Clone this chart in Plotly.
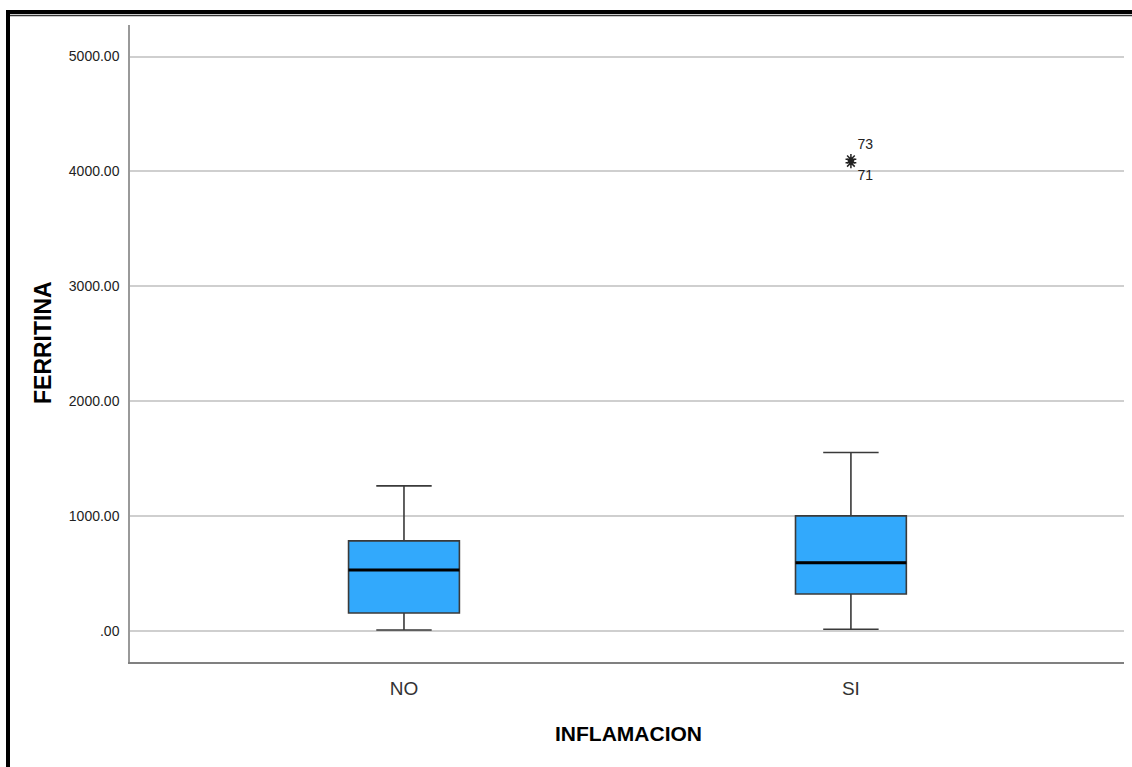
import plotly.graph_objects as go

# ---- data ----
categories = ["NO", "SI"]
lower_whisker = [9, 15]
q1_values = [157, 322]
median_values = [531, 595]
q3_values = [784, 1002]
upper_whisker = [1263, 1553]

outlier_category = [1, 1]
outlier_values = [4105, 4075]
outlier_labels = ["73", "71"]

y_tick_values = [0, 1000, 2000, 3000, 4000, 5000]
y_tick_labels = [".00", "1000.00", "2000.00", "3000.00", "4000.00", "5000.00"]

# ---- layout geometry (pixels) ----
W, H = 1132, 767
L, R, T, B = 130, 8, 25, 105
PW, PH = W - L - R, H - T - B
box_width = 0.248
FONT = "Liberation Sans, Arial, sans-serif"


def px_x(px):
    return (px - L) / PW


def px_y(py):
    return (H - B - py) / PH


xpos = list(range(len(categories)))

fig = go.Figure()
fig.add_trace(go.Box(
    x=xpos, q1=q1_values, median=median_values, q3=q3_values,
    lowerfence=lower_whisker, upperfence=upper_whisker,
    width=box_width, whiskerwidth=0.5,
    fillcolor="#32A9FC", line=dict(color="#3a3a3a", width=1.6),
    boxpoints=False, showlegend=False, hoverinfo="skip",
))

# thick black median lines
for i, m in zip(xpos, median_values):
    fig.add_trace(go.Scatter(
        x=[i - box_width / 2, i + box_width / 2], y=[m, m], mode="lines",
        line=dict(color="#000000", width=3), showlegend=False, hoverinfo="skip",
    ))

# extreme outliers
fig.add_trace(go.Scatter(
    x=outlier_category, y=outlier_values, mode="markers+text",
    marker=dict(symbol="asterisk-open", size=9, color="#222222", line=dict(width=1.5, color="#222222")),
    text=outlier_labels, textposition=["top right", "bottom right"],
    textfont=dict(family=FONT, size=14, color="#222222"),
    showlegend=False, hoverinfo="skip",
))

y_lo = (-31) / 114.9 * 1000
y_hi = (606) / 114.9 * 1000

fig.update_layout(
    width=W, height=H,
    margin=dict(l=L, r=R, t=T, b=B, pad=0),
    paper_bgcolor="white", plot_bgcolor="white",
    font=dict(family=FONT, color="#222222"),
    xaxis=dict(
        range=[-0.613, 1.611], tickmode="array", tickvals=xpos, ticktext=categories,
        showgrid=False, zeroline=False, showline=True, linecolor="#808080", linewidth=2,
        ticks="", tickfont=dict(size=19, color="#333333"), ticklabelstandoff=8,
        fixedrange=True,
    ),
    yaxis=dict(
        range=[y_lo, y_hi], tickmode="array", tickvals=y_tick_values, ticktext=y_tick_labels,
        showgrid=True, gridcolor="#cfcfcf", gridwidth=2, zeroline=False,
        showline=True, linecolor="#999999", linewidth=1.5,
        ticks="", tickfont=dict(size=14, color="#222222"), ticklabelstandoff=6,
        fixedrange=True,
    ),
    annotations=[
        dict(text="<b>INFLAMACION</b>", xref="paper", yref="paper", x=px_x(628), y=px_y(733),
             xanchor="center", yanchor="middle", showarrow=False,
             font=dict(family=FONT, size=21, color="#000000")),
        dict(text="<b>FERRITINA</b>", xref="paper", yref="paper", x=px_x(43), y=px_y(343),
             xanchor="center", yanchor="middle", showarrow=False, textangle=-90,
             font=dict(family=FONT, size=23, color="#000000")),
    ],
    shapes=[
        # frame: thick left and top borders plus thin inner top line
        dict(type="rect", xref="paper", yref="paper", x0=px_x(6), x1=px_x(10), y0=px_y(767), y1=px_y(10),
             fillcolor="black", line=dict(width=0), layer="above"),
        dict(type="rect", xref="paper", yref="paper", x0=px_x(6), x1=px_x(1132), y0=px_y(14), y1=px_y(10),
             fillcolor="black", line=dict(width=0), layer="above"),
        dict(type="line", xref="paper", yref="paper", x0=px_x(10), x1=px_x(1132), y0=px_y(15.5), y1=px_y(15.5),
             line=dict(color="#333333", width=1.3), layer="above"),
    ],
)

fig.write_html(
    "out.html",
    config={"displayModeBar": False},
    post_script="document.body.style.margin='0';document.body.style.overflow='hidden';",
)
